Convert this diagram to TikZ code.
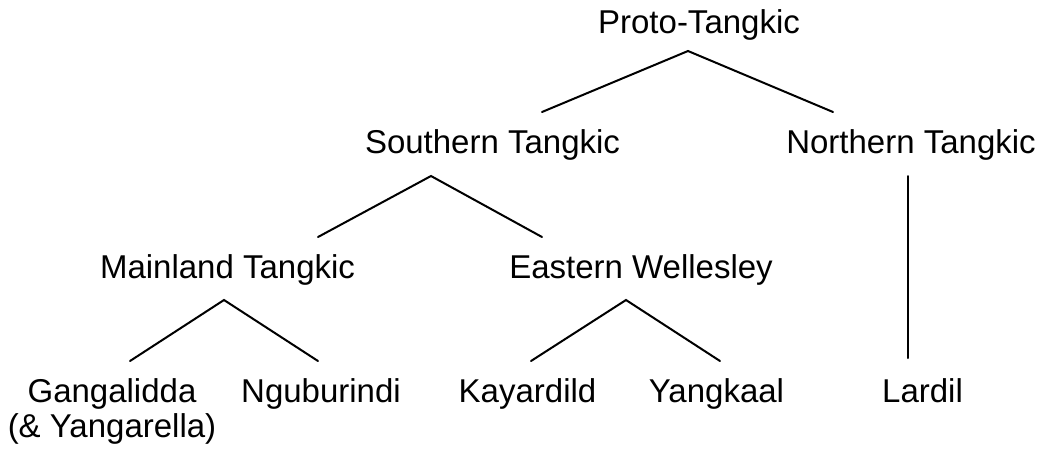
\documentclass[tikz,border=0pt]{standalone}
\usepackage{fontspec}
\setmainfont{Liberation Sans}
\begin{document}
\begin{tikzpicture}[x=1pt,y=-1pt,
  lbl/.style={anchor=base,inner sep=0pt,font=\fontsize{33}{35}\selectfont},
  br/.style={line width=2pt,line cap=round}]
\useasboundingbox (0,0) rectangle (1044,448);
% labels
\node[lbl] (proto) at (699,33) {Proto-Tangkic};
\node[lbl] (south) at (492.5,153) {Southern Tangkic};
\node[lbl] (north) at (911,153) {Northern Tangkic};
\node[lbl] (main) at (227.5,278) {Mainland Tangkic};
\node[lbl] (east) at (641,278) {Eastern Wellesley};
\node[lbl,align=center] (gang) at (112,437) {Gangalidda\\(\& Yangarella)};
\node[lbl] (ngub) at (321,402) {Nguburindi};
\node[lbl] (kaya) at (527.5,402) {Kayardild};
\node[lbl] (yang) at (716.5,402) {Yangkaal};
\node[lbl] (lard) at (922.5,402) {Lardil};
% branch points
\coordinate (p0) at (688,51);
\coordinate (p1) at (542,112);
\coordinate (p2) at (833,112);
\coordinate (s0) at (431,176);
\coordinate (s1) at (318,237);
\coordinate (s2) at (542,237);
\coordinate (n0) at (908,176);
\coordinate (n1) at (908,358);
\coordinate (m0) at (224,300);
\coordinate (m1) at (130,361);
\coordinate (m2) at (318,361);
\coordinate (e0) at (626,300);
\coordinate (e1) at (531,361);
\coordinate (e2) at (720,361);
% branches
\draw[br] (p1) -- (p0) -- (p2);
\draw[br] (s1) -- (s0) -- (s2);
\draw[br] (n0) -- (n1);
\draw[br] (m1) -- (m0) -- (m2);
\draw[br] (e1) -- (e0) -- (e2);
\end{tikzpicture}
\end{document}
